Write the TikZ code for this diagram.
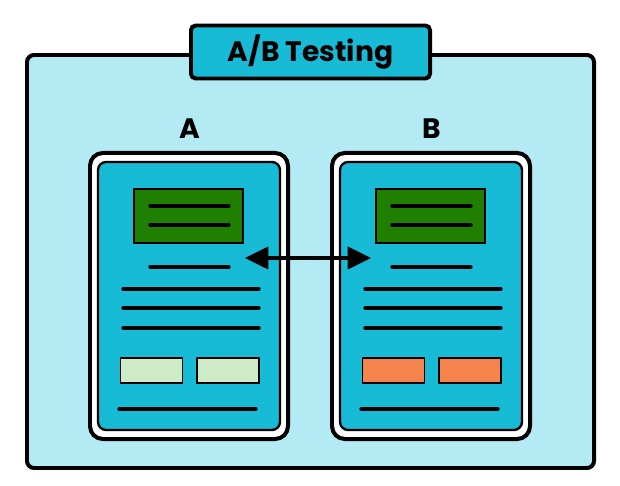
\documentclass[tikz,border=0pt]{standalone}
\usepackage{fontspec}
\setmainfont{Poppins}
\usepackage{tikz}
\usetikzlibrary{arrows.meta}
\definecolor{bgpale}{HTML}{B3EAF4}
\definecolor{screen}{HTML}{18BBD6}
\definecolor{dkgreen}{HTML}{1E7F00}
\definecolor{ltgreen}{HTML}{CDEBC4}
\definecolor{orng}{HTML}{F4844C}

\begin{document}
\begin{tikzpicture}[x=0.03cm,y=-0.03cm]
                \tikzstyle{txtline}=[line width=2.8pt,line cap=round]
                \tikzstyle{phone}=[draw=black,fill=white,line width=3.4pt,rounded corners=11pt,minimum width=5.94cm,minimum height=8.58cm,inner sep=0pt]
                \tikzstyle{screenbox}=[draw=black,fill=screen,line width=2pt,rounded corners=7pt,minimum width=5.46cm,minimum height=8.04cm,inner sep=0pt]
                \tikzstyle{header}=[draw=black,fill=dkgreen,line width=1.4pt,minimum width=3.27cm,minimum height=1.62cm,inner sep=0pt]
                \tikzstyle{button}=[draw=black,line width=1.4pt,minimum width=1.85cm,minimum height=0.75cm,inner sep=0pt]
                \tikzstyle{titletext}=[font=\fontsize{24}{28}\selectfont\bfseries]
                \tikzstyle{vartext}=[font=\fontsize{24}{28}\selectfont\bfseries]

                % page and frame
                \fill[white] (0,0) rectangle (620,486);
                \draw[line width=3.4pt,fill=bgpale,rounded corners=6pt] (27,55) rectangle (594,468);
                \node[draw=black,fill=screen,line width=3.4pt,rounded corners=4pt,minimum width=7.17cm,minimum height=1.59cm,titletext] (title) at (310.5,52) {A/B Testing};

                % the two variants
                \foreach \ph/\dx/\btn in {A/0/ltgreen, B/242/orng} {
                        \node[vartext] (lab-\ph) at (190+\dx,129) {\ph};
                        \node[phone] (phone-\ph) at (189+\dx,296) {};
                        \node[screenbox] (screen-\ph) at (189+\dx,296) {};
                        \node[header] (head-\ph) at (188.5+\dx,216) {};
                        \foreach \y in {206, 225}
                                \draw[txtline] (150+\dx,\y) -- (229+\dx,\y);
                        \draw[txtline] (150+\dx,267) -- (229+\dx,267);
                        \foreach \y in {289, 308, 328}
                                \draw[txtline] (123+\dx,\y) -- (259+\dx,\y);
                        \node[button,fill=\btn] (btn1-\ph) at (151.5+\dx,370.5) {};
                        \node[button,fill=\btn] (btn2-\ph) at (228+\dx,370.5) {};
                        \draw[txtline] (119+\dx,409) -- (256+\dx,409);
                }

                \coordinate (arrL) at (245,258);
                \coordinate (arrR) at (371,258);
                \draw[line width=2.8pt,{Triangle[length=20pt,width=19pt]}-{Triangle[length=20pt,width=19pt]}] (arrL) -- (arrR);
            \end{tikzpicture}
\end{document}
